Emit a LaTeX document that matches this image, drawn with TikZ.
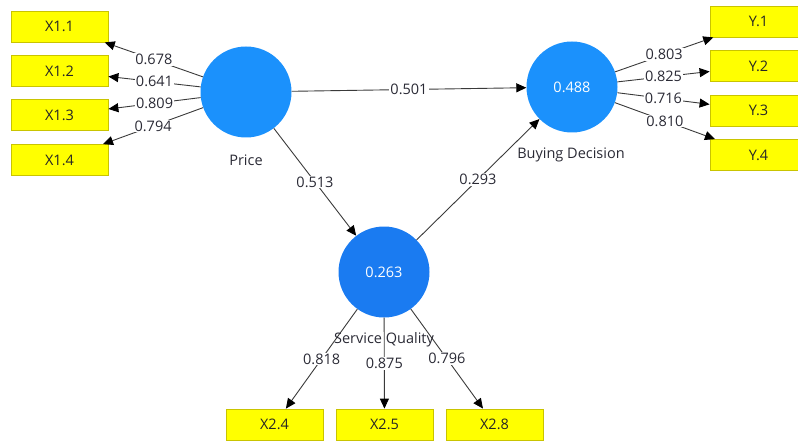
\documentclass[tikz,border=0pt]{standalone}
\usepackage{fontspec}
\setmainfont{Open Sans}
\usetikzlibrary{arrows.meta}
\definecolor{latentA}{HTML}{1B91FC}
\definecolor{latentB}{HTML}{1A7BF1}
\definecolor{indfill}{HTML}{FFFF00}
\definecolor{indline}{HTML}{C9C400}
\definecolor{linkgray}{HTML}{3A3A3A}
\definecolor{txtgray}{HTML}{2A2A35}
\begin{document}
\begin{tikzpicture}[x=1pt,y=-1pt,
  font=\fontsize{14.5}{17}\selectfont,
  indicator/.style={rectangle, draw=indline, fill=indfill, line width=0.8pt,
    minimum width=97pt, minimum height=31pt, inner sep=0pt, text=black!85},
  latent/.style={circle, minimum size=91pt, inner sep=0pt, text=white, fill=#1},
  link/.style={draw=linkgray, line width=0.9pt,
    -{Triangle[length=10pt,width=9pt,color=black,fill=black]}},
  coef/.style={fill=white, inner sep=1pt, text=txtgray, midway},
  caption/.style={text=txtgray}]
\useasboundingbox (0,0) rectangle (798,441);
\clip (0,0) rectangle (798,441);

% latent variables
\node[latent=latentA] (price) at (246,92) {};
\node[latent=latentA] (buy) at (572,87) {0.488};
\node[latent=latentB] (sq) at (384,272) {0.263};

% indicators of Price
\node[indicator] (x11) at (59.5,26.5) {X1.1};
\node[indicator] (x12) at (59.5,71) {X1.2};
\node[indicator] (x13) at (59.5,115) {X1.3};
\node[indicator] (x14) at (59.5,160) {X1.4};

% indicators of Buying Decision
\node[indicator] (y1) at (758.5,21.5) {Y.1};
\node[indicator] (y2) at (758.5,66) {Y.2};
\node[indicator] (y3) at (758.5,110.5) {Y.3};
\node[indicator] (y4) at (758.5,155) {Y.4};

% indicators of Service Quality
\node[indicator] (x24) at (274.5,424.5) {X2.4};
\node[indicator] (x25) at (384.5,424.5) {X2.5};
\node[indicator] (x28) at (494.5,424.5) {X2.8};

% outer loadings
\draw[link] (price) -- node[coef]{0.678} (x11);
\draw[link] (price) -- node[coef]{0.641} (x12);
\draw[link] (price) -- node[coef]{0.809} (x13);
\draw[link] (price) -- node[coef]{0.794} (x14);

\draw[link] (buy) -- node[coef]{0.803} (y1);
\draw[link] (buy) -- node[coef]{0.825} (y2);
\draw[link] (buy) -- node[coef]{0.716} (y3);
\draw[link] (buy) -- node[coef]{0.810} (y4);

\draw[link] (sq) -- node[coef]{0.818} (x24);
\draw[link] (sq) -- node[coef]{0.875} (x25);
\draw[link] (sq) -- node[coef]{0.796} (x28);

% path coefficients
\draw[link] (price) -- node[coef]{0.501} (buy);
\draw[link] (price) -- node[coef]{0.513} (sq);
\draw[link] (sq) -- node[coef]{0.293} (buy);

% construct names
\node[caption] (pricename) at (246,160) {Price};
\node[caption] (buyname) at (571,155) {Buying Decision};
\node[caption] (sqname) at (384,340) {Service Quality};
\end{tikzpicture}
\end{document}
